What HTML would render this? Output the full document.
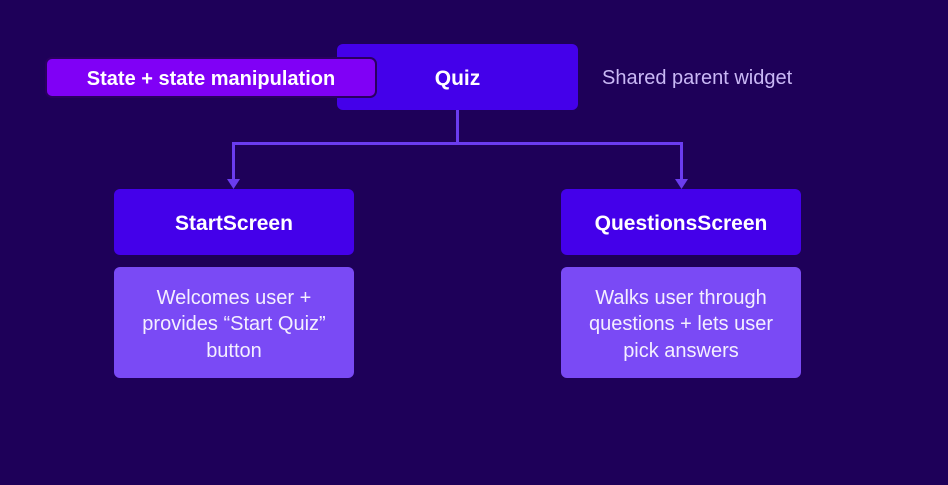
<!DOCTYPE html>
<html><head><style>
body{margin:0;width:948px;height:485px;background:#1e0059;font-family:"Liberation Sans",sans-serif;position:relative;overflow:hidden}
.b{position:absolute;box-sizing:border-box;display:flex;align-items:center;justify-content:center;text-align:center;color:#fff;border-radius:6px;padding-top:4px}
.h{background:#4400ea;font-weight:bold;font-size:21px}
.d{background:#7a4af5;font-size:20px;line-height:26.5px;color:#f4efff}
</style></head><body>
<div class="b h" style="left:337px;top:44px;width:241px;height:66px">Quiz</div>
<div class="b" style="left:45px;top:57px;width:332px;height:41px;background:#8000f6;border:2px solid #2a0060;border-radius:7px;font-weight:bold;font-size:20px">State + state manipulation</div>
<div style="position:absolute;left:602px;top:67px;color:#c9b8f5;font-size:20px">Shared parent widget</div>
<svg style="position:absolute;left:0;top:0" width="948" height="485">
<g stroke="#6b3cf0" stroke-width="3" fill="none">
<path d="M457.5 110V143.5H233.5V180M457.5 143.5H681.5V180"/>
</g>
<path d="M227 179h13l-6.5 10z M675 179h13l-6.5 10z" fill="#6b3cf0"/>
</svg>
<div class="b h" style="left:114px;top:189px;width:240px;height:66px">StartScreen</div>
<div class="b h" style="left:561px;top:189px;width:240px;height:66px">QuestionsScreen</div>
<div class="b d" style="left:114px;top:267px;width:240px;height:111px">Welcomes user +<br>provides “Start Quiz”<br>button</div>
<div class="b d" style="left:561px;top:267px;width:240px;height:111px">Walks user through<br>questions + lets user<br>pick answers</div>
</body></html>
